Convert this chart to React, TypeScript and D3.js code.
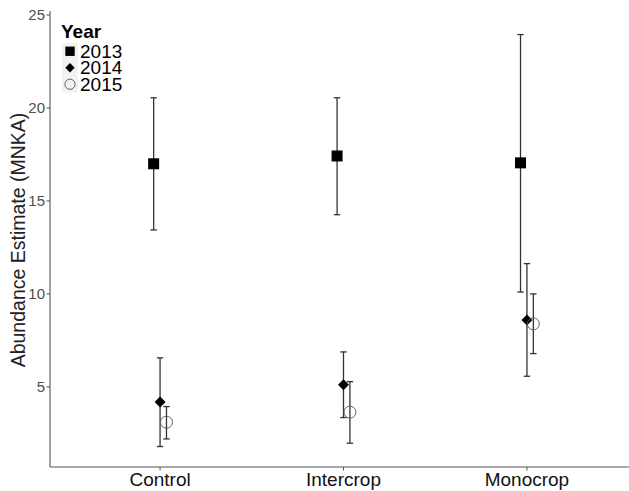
import React from "react";
import * as d3 from "d3";

// Abundance estimates by treatment and year, with error-bar bounds
const treatments = ["Control", "Intercrop", "Monocrop"];
const years = ["2013", "2014", "2015"];

const est2013 = [17.0, 17.42, 17.05];
const lo2013 = [13.44, 14.26, 10.1];
const hi2013 = [20.55, 20.55, 23.95];

const est2014 = [4.19, 5.12, 8.6];
const lo2014 = [1.79, 3.35, 5.57];
const hi2014 = [6.56, 6.88, 11.63];

const est2015 = [3.1, 3.64, 8.39];
const lo2015 = [2.2, 1.97, 6.79];
const hi2015 = [3.94, 5.28, 10.0];

const yTicks = [5, 10, 15, 20, 25];

const W = 629;
const H = 491;
const FONT = "Liberation Sans, Arial, sans-serif";

export default function App() {
  const left = 50;
  const bottom = 467;
  const top = 13;

  const y = d3.scaleLinear().domain([0.69, 25.11]).range([bottom, top]);
  const x = d3
    .scaleLinear()
    .domain([0.4, 3.6])
    .range([left, left + 587]);
  const dodge = d3.scalePoint().domain(years).range([-0.035, 0.035]);

  const series = [
    { year: "2013", est: est2013, lo: lo2013, hi: hi2013 },
    { year: "2014", est: est2014, lo: lo2014, hi: hi2014 },
    { year: "2015", est: est2015, lo: lo2015, hi: hi2015 },
  ];

  const cap = 3.2;

  const marker = (year: string, cx: number, cy: number, s = 1) => {
    if (year === "2013") {
      const h = 5.5 * s;
      return <rect x={cx - h} y={cy - h} width={2 * h} height={2 * h} fill="#000" />;
    }
    if (year === "2014") {
      const h = 5.5 * s;
      return (
        <path
          d={`M${cx},${cy - h}L${cx + h},${cy}L${cx},${cy + h}L${cx - h},${cy}Z`}
          fill="#000"
        />
      );
    }
    return <circle cx={cx} cy={cy} r={6 * s} fill="none" stroke="#555" strokeWidth={0.9} />;
  };

  return (
    <svg width={W} height={H} style={{ position: "absolute", left: 0, top: 0 }} fontFamily={FONT}>
      <rect width={W} height={H} fill="#fff" />

      {/* axes */}
      <line x1={left} x2={left} y1={top - 2} y2={bottom} stroke="#555" strokeWidth={1.1} />
      <line x1={left} x2={W} y1={bottom} y2={bottom} stroke="#555" strokeWidth={1.1} />

      {yTicks.map((t) => (
        <g key={t}>
          <line x1={left - 3.5} x2={left} y1={y(t)} y2={y(t)} stroke="#555" strokeWidth={1} />
          <text
            x={left - 5}
            y={y(t)}
            dy="0.35em"
            textAnchor="end"
            fontSize={15}
            fill="#4d4d4d"
          >
            {t}
          </text>
        </g>
      ))}

      {treatments.map((c, i) => (
        <g key={c}>
          <line x1={x(i + 1)} x2={x(i + 1)} y1={bottom} y2={bottom + 3.5} stroke="#555" strokeWidth={1} />
          <text x={x(i + 1)} y={bottom + 19} textAnchor="middle" fontSize={19} fill="#111">
            {c}
          </text>
        </g>
      ))}

      <text
        transform={`translate(25,${(top + bottom) / 2}) rotate(-90)`}
        textAnchor="middle"
        fontSize={19.5}
        fill="#222"
      >
        Abundance Estimate (MNKA)
      </text>

      {/* error bars */}
      {series.map((s) =>
        treatments.map((c, i) => {
          const cx = x(i + 1 + (dodge(s.year) as number) * 1);
          return (
            <g key={s.year + c} stroke="#333" strokeWidth={1.3}>
              <line x1={cx} x2={cx} y1={y(s.lo[i])} y2={y(s.hi[i])} />
              <line x1={cx - cap} x2={cx + cap} y1={y(s.lo[i])} y2={y(s.lo[i])} />
              <line x1={cx - cap} x2={cx + cap} y1={y(s.hi[i])} y2={y(s.hi[i])} />
            </g>
          );
        })
      )}

      {/* points */}
      {series.map((s) =>
        treatments.map((c, i) => {
          const cx = x(i + 1 + (dodge(s.year) as number));
          return <g key={"p" + s.year + c}>{marker(s.year, cx, y(s.est[i]))}</g>;
        })
      )}

      {/* legend */}
      <text x={61} y={38} fontSize={19} fontWeight="bold" fill="#000">
        Year
      </text>
      {years.map((yr, k) => {
        const ky = 43 + k * 16.5;
        return (
          <g key={yr}>
            <rect x={62} y={ky} width={16} height={16.5} fill="#f2f2f2" />
            {marker(yr, 70, ky + 8.25, 0.85)}
            <text x={80} y={ky + 14.5} fontSize={19} fill="#000">
              {yr}
            </text>
          </g>
        );
      })}
    </svg>
  );
}
